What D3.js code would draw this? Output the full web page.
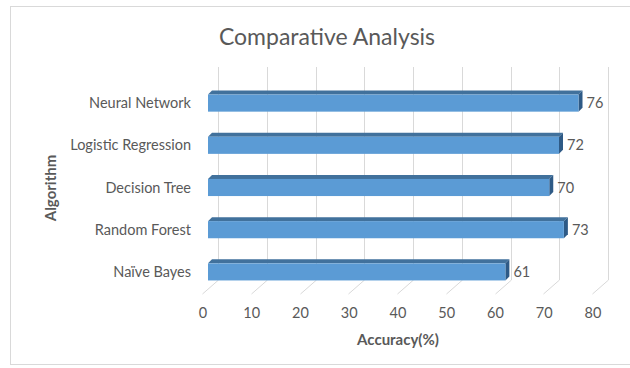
<!DOCTYPE html>
<html>
<head>
<meta charset="utf-8">
<script src="https://cdn.jsdelivr.net/npm/d3@7"></script>
<style>
  html, body { margin: 0; padding: 0; background: #fff; }
  svg { display: block; font-family: Lato, "Open Sans", sans-serif; }
</style>
</head>
<body>
<svg id="chart" width="630" height="368"></svg>
<script>
// Accuracy per algorithm, top to bottom
const algorithms = ["Neural Network", "Logistic Regression", "Decision Tree", "Random Forest", "Naïve Bayes"];
const accuracy = [76, 72, 70, 73, 61];
const xTicks = [0, 10, 20, 30, 40, 50, 60, 70, 80];

const svg = d3.select("#chart");
const textColor = "#595959";
const labelSize = 14.5;

// 3D projection: depth offset from front floor edge to back wall
const depthX = 16, depthY = -14;
const barDepth = 0.375;   // bars sit partway back into the box
const barThick = 4;       // visible thickness of the bar's top / side faces

const x = d3.scaleLinear().domain([0, 80]).range([202, 592]);
const y = d3.scaleBand().domain(algorithms).range([80, 291]).paddingInner(0.5).paddingOuter(0.25);

const wallTop = 67, floorBack = 280;

// chart frame
svg.append("rect")
  .attr("x", 10.5).attr("y", 6.5).attr("width", 640).attr("height", 358)
  .attr("fill", "#fff").attr("stroke", "#d9d9d9").attr("stroke-width", 1);

// title
svg.append("text")
  .attr("x", 327).attr("y", 45)
  .attr("text-anchor", "middle")
  .attr("fill", textColor)
  .attr("font-size", 23)
  .text("Comparative Analysis");

// gridlines: back wall vertical plus floor diagonal
const grid = svg.append("g").attr("fill", "none").attr("stroke", "#d9d9d9").attr("stroke-width", 1);
xTicks.forEach(v => {
  const bx = Math.round(x(v) + depthX) + 0.5;
  const fx = Math.round(x(v)) + 0.5;
  grid.append("path")
    .attr("d", `M${bx},${wallTop} L${bx},${floorBack} L${fx},${floorBack - depthY}`);
});

// tick labels along the front floor edge
svg.append("g").selectAll("text").data(xTicks).join("text")
  .attr("x", d => x(d) + 1)
  .attr("y", 318)
  .attr("text-anchor", "middle")
  .attr("fill", textColor)
  .attr("font-size", labelSize)
  .text(d => d);

// bars as 3D boxes
const off = barDepth * depthX;
const rows = algorithms.map((a, i) => ({ name: a, value: accuracy[i] }));
const bars = svg.append("g");
rows.forEach(d => {
  const x0 = x(0) + off, x1 = x(d.value) + off;
  const yt = y(d.name), yb = yt + y.bandwidth();
  const g = bars.append("g");
  // top face
  g.append("path")
    .attr("d", `M${x0},${yt + barThick} L${x0 + barThick},${yt} L${x1 + barThick},${yt} L${x1},${yt + barThick} Z`)
    .attr("fill", "#41719c");
  // side face
  g.append("path")
    .attr("d", `M${x1},${yt + barThick} L${x1 + barThick},${yt} L${x1 + barThick},${yb - barThick} L${x1},${yb} Z`)
    .attr("fill", "#2e5a86");
  // front face
  g.append("rect")
    .attr("x", x0).attr("y", yt + barThick)
    .attr("width", x1 - x0).attr("height", y.bandwidth() - barThick)
    .attr("fill", "#5b9bd5");
  // value label
  g.append("text")
    .attr("x", x1 + barThick + 4)
    .attr("y", (yt + barThick + yb) / 2 + 5)
    .attr("fill", textColor)
    .attr("font-size", labelSize)
    .text(d.value);
});

// category labels
svg.append("g").selectAll("text").data(algorithms).join("text")
  .attr("x", 191)
  .attr("y", d => y(d) + barThick + (y.bandwidth() - barThick) / 2 + 5)
  .attr("text-anchor", "end")
  .attr("fill", textColor)
  .attr("font-size", labelSize)
  .text(d => d);

// axis titles
svg.append("text")
  .attr("x", 398).attr("y", 345)
  .attr("text-anchor", "middle")
  .attr("fill", textColor)
  .attr("font-size", 15)
  .attr("font-weight", "bold")
  .text("Accuracy(%)");

svg.append("text")
  .attr("transform", "translate(56,188) rotate(-90)")
  .attr("text-anchor", "middle")
  .attr("fill", textColor)
  .attr("font-size", 15)
  .attr("font-weight", "bold")
  .text("Algorithm");
</script>
</body>
</html>
